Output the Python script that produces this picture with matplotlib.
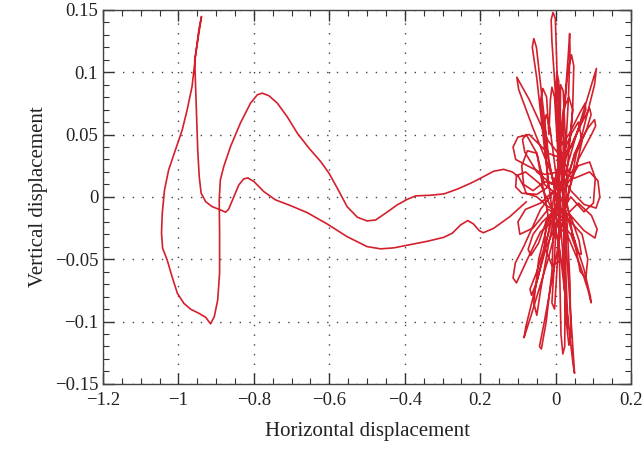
import matplotlib
matplotlib.use("Agg")
import matplotlib.pyplot as plt
from matplotlib.ticker import MultipleLocator, FixedLocator

# Strand from the top spike down the left side, around the bottom cusp, over the hump and into the cluster
strand_a_x = [-0.939, -0.946, -0.955, -0.964, -0.977, -0.990, -1.008, -1.026, -1.037, -1.043, -1.045, -1.042,
              -1.030, -1.017, -1.003, -0.986, -0.968, -0.946, -0.928, -0.915, -0.905, -0.896, -0.891, -0.891,
              -0.892, -0.889, -0.880, -0.862, -0.836, -0.809, -0.791, -0.778, -0.760, -0.738, -0.712, -0.685,
              -0.654, -0.623, -0.601, -0.579, -0.553, -0.526, -0.500, -0.477, -0.451, -0.420, -0.393, -0.371,
              -0.332, -0.296, -0.261, -0.225, -0.199, -0.165, -0.138, -0.115, -0.098, -0.084, -0.078]
strand_a_y = [0.1447, 0.134, 0.1126, 0.0885, 0.0698, 0.0538, 0.0377, 0.0217, 0.0056, -0.0131, -0.0291, -0.0412,
              -0.0506, -0.064, -0.0773, -0.0853, -0.0901, -0.0934, -0.0966, -0.1019, -0.0960, -0.0827, -0.0612,
              -0.0291, -0.0024, 0.0136, 0.0243, 0.0404, 0.0591, 0.0752, 0.0819, 0.0832, 0.0811, 0.0752, 0.0644,
              0.0511, 0.0391, 0.0283, 0.019, 0.007, -0.0078, -0.0163, -0.0193, -0.0185, -0.0131, -0.0064, -0.0019,
              0.0008, 0.0013, 0.0024, 0.0062, 0.011, 0.015, 0.0205, 0.0221, 0.020, 0.0160, 0.008, 0.0027]

# Strand from the top spike straight down, over the small bump, along the lower path into the cluster
strand_b_x = [-0.939, -0.943, -0.950, -0.957, -0.955, -0.952, -0.949, -0.945, -0.940, -0.928, -0.911, -0.889,
              -0.875, -0.867, -0.853, -0.840, -0.827, -0.816, -0.800, -0.774, -0.743, -0.703, -0.659, -0.606,
              -0.553, -0.500, -0.464, -0.429, -0.385, -0.340, -0.296, -0.274, -0.252, -0.233, -0.218, -0.203,
              -0.192, -0.165, -0.122, -0.078]
strand_b_y = [0.1447, 0.1367, 0.1233, 0.110, 0.0912, 0.0645, 0.0377, 0.0163, 0.003, -0.0038, -0.0078, -0.0104,
              -0.0123, -0.0099, 0.0003, 0.0096, 0.0144, 0.0152, 0.0123, 0.0043, -0.0024, -0.007, -0.0126, -0.0217,
              -0.0319, -0.0399, -0.0417, -0.0409, -0.0383, -0.0356, -0.0324, -0.0291, -0.0225, -0.019, -0.0217,
              -0.027, -0.0288, -0.0253, -0.016, -0.004]

# Tangle of loops around the origin (x, y) read point by point
cluster_points = [
    (-0.05, 0.0), (-0.02, -0.008), (0.012, -0.012),
    (0.008, 0.03), (0.0, 0.08), (-0.01, 0.125), (-0.012, 0.142), (-0.007, 0.148), (-0.001, 0.143), (0.001, 0.125), (0.006, 0.075), (0.015, 0.02),
    (0.028, -0.04), (0.042, -0.105), (0.048, -0.133), (0.050, -0.1415), (0.046, -0.134), (0.033, -0.10), (0.012, -0.045), (-0.01, -0.01),
    (-0.03, 0.04), (-0.05, 0.095), (-0.062, 0.12), (-0.058, 0.127), (-0.051, 0.12), (-0.04, 0.09), (-0.018, 0.03), (0.01, -0.015),
    (-0.02, -0.05), (-0.065, -0.095), (-0.084, -0.113), (-0.079, -0.104), (-0.045, -0.062), (-0.02, -0.03), (0.012, 0.005),
    (0.05, 0.045), (0.09, 0.085), (0.108, 0.103), (0.103, 0.09), (0.07, 0.05), (0.035, 0.02), (0.02, 0.03),
    (-0.02, 0.045), (-0.07, 0.078), (-0.103, 0.096), (-0.098, 0.086), (-0.06, 0.055), (-0.02, 0.025), (0.025, -0.01),
    (0.0, -0.05), (-0.03, -0.10), (-0.043, -0.12), (-0.038, -0.122), (-0.025, -0.10), (-0.01, -0.06), (-0.005, -0.02), (0.0, 0.01),
    (0.02, 0.06), (0.033, 0.112), (0.037, 0.131), (0.038, 0.118), (0.034, 0.08), (0.025, 0.03),
    (-0.02, 0.035), (-0.07, 0.05), (-0.10, 0.048), (-0.113, 0.04), (-0.106, 0.03), (-0.075, 0.025), (-0.03, 0.018), (0.01, 0.02),
    (0.05, 0.015), (0.09, 0.02), (0.112, 0.013), (0.117, 0.0), (0.107, -0.009), (0.075, -0.006), (0.04, 0.005), (0.02, 0.015),
    (0.02, 0.06), (0.032, 0.10), (0.042, 0.114), (0.048, 0.105), (0.045, 0.07), (0.03, 0.02),
    (0.02, -0.05), (0.028, -0.10), (0.035, -0.119), (0.04, -0.112), (0.038, -0.07), (0.03, -0.02), (0.015, 0.012),
    (-0.04, -0.01), (-0.085, -0.04), (-0.107, -0.053), (-0.113, -0.065), (-0.104, -0.069), (-0.075, -0.05), (-0.04, -0.028), (-0.01, -0.02),
    (0.03, -0.03), (0.065, -0.055), (0.086, -0.075), (0.094, -0.085), (0.092, -0.08), (0.075, -0.058), (0.045, -0.03), (0.03, -0.005),
    (0.055, 0.035), (0.083, 0.055), (0.094, 0.066), (0.09, 0.071), (0.07, 0.06), (0.04, 0.04), (0.01, 0.03),
    (-0.02, -0.03), (-0.05, -0.06), (-0.068, -0.074), (-0.064, -0.079), (-0.05, -0.068), (-0.025, -0.04), (0.005, -0.02),
    (-0.04, 0.01), (-0.08, 0.02), (-0.104, 0.017), (-0.106, 0.008), (-0.09, 0.003), (-0.05, 0.002), (-0.02, 0.008),
    (-0.03, 0.05), (-0.04, 0.078), (-0.034, 0.087), (-0.024, 0.08), (-0.018, 0.05), (-0.014, 0.078), (-0.01, 0.088), (-0.003, 0.08), (0.005, 0.04),
    (0.01, -0.05), (0.014, -0.11), (0.019, -0.126), (0.024, -0.12), (0.025, -0.07), (0.02, -0.01),
    (0.06, 0.03), (0.095, 0.05), (0.106, 0.057), (0.103, 0.062), (0.085, 0.055), (0.05, 0.035), (0.02, 0.0),
    (0.045, -0.02), (0.062, -0.035), (0.068, -0.046), (0.058, -0.045), (0.04, -0.03), (0.01, -0.02),
    (0.06, -0.005), (0.095, -0.015), (0.11, -0.026), (0.104, -0.033), (0.075, -0.027), (0.04, -0.015), (0.0, -0.01),
    (-0.035, -0.02), (-0.06, -0.03), (-0.073, -0.042), (-0.066, -0.047), (-0.045, -0.037), (-0.02, -0.015),
    (-0.05, 0.035), (-0.078, 0.05), (-0.088, 0.046), (-0.082, 0.036), (-0.05, 0.02), (-0.01, 0.01),
    (0.04, 0.04), (0.068, 0.06), (0.08, 0.07), (0.078, 0.075), (0.065, 0.068), (0.035, 0.05), (0.01, 0.04),
    (0.0, 0.08), (0.003, 0.10), (0.008, 0.093), (0.012, 0.05), (0.02, 0.0), (0.028, -0.07), (0.033, -0.105), (0.028, -0.10), (0.02, -0.05), (0.01, -0.01),
    (-0.02, 0.03), (-0.03, 0.06), (-0.025, 0.066), (-0.015, 0.055), (0.0, 0.02), (0.02, -0.02),
    (0.025, 0.05), (0.02, 0.085), (0.013, 0.09), (0.012, 0.06), (0.005, 0.0), (-0.005, -0.06), (-0.01, -0.085), (-0.003, -0.09), (0.005, -0.05), (0.012, 0.0),
    (-0.03, 0.01), (-0.05, 0.035), (-0.075, 0.037), (-0.09, 0.025), (-0.085, 0.01), (-0.06, 0.005), (-0.03, 0.012),
    (0.03, 0.01), (0.06, 0.025), (0.09, 0.028), (0.105, 0.015), (0.10, -0.005), (0.075, -0.012), (0.04, 0.0),
    (0.02, -0.01), (0.03, -0.03), (0.02, -0.05), (-0.01, -0.055), (-0.03, -0.04), (-0.025, -0.02), (0.0, -0.01),
    (-0.02, -0.02), (-0.045, -0.05), (-0.058, -0.085), (-0.05, -0.095), (-0.04, -0.075), (-0.02, -0.04),
    (0.02, 0.02), (0.04, 0.05), (0.06, 0.06), (0.07, 0.045), (0.055, 0.025), (0.03, 0.015),
    (-0.04, -0.005), (-0.08, -0.01), (-0.10, -0.02), (-0.095, -0.03), (-0.06, -0.025), (-0.02, -0.01),
    (0.04, -0.02), (0.07, -0.03), (0.085, -0.05), (0.08, -0.065), (0.065, -0.06), (0.05, -0.035), (0.02, -0.005),
    (0.01, 0.04), (0.02, 0.07), (0.035, 0.08), (0.045, 0.07), (0.04, 0.05), (0.02, 0.035),
]

x_ticks = [-1.2, -1.0, -0.8, -0.6, -0.4, -0.2, 0.0, 0.2]
x_tick_labels = ["\u22121.2", "\u22121", "\u22120.8", "\u22120.6", "\u22120.4", "0.2", "0", "0.2"]
y_ticks = [-0.15, -0.1, -0.05, 0.0, 0.05, 0.1, 0.15]
y_tick_labels = ["\u22120.15", "\u22120.1", "\u22120.05", "0", "0.05", "0.1", "0.15"]

plt.rcParams['font.family'] = ['Liberation Serif', 'DejaVu Serif']

fig = plt.figure(figsize=(6.44, 4.5), dpi=100)
ax = fig.add_axes([0.160, 0.147, 0.820, 0.831])

cluster_x = [p[0] for p in cluster_points]
cluster_y = [p[1] for p in cluster_points]
path_x = strand_b_x[::-1] + strand_a_x + cluster_x
path_y = strand_b_y[::-1] + strand_a_y + cluster_y
ax.plot(path_x, path_y, color='#d4202c', lw=1.2, solid_joinstyle='round')

ax.set_xlim(-1.2, 0.2)
ax.set_ylim(-0.15, 0.15)
ax.xaxis.set_major_locator(FixedLocator(x_ticks))
ax.set_xticklabels(x_tick_labels)
ax.yaxis.set_major_locator(FixedLocator(y_ticks))
ax.set_yticklabels(y_tick_labels)
ax.xaxis.set_minor_locator(MultipleLocator(0.05))
ax.yaxis.set_minor_locator(MultipleLocator(0.01))

ax.tick_params(which='both', direction='in', top=True, right=True, colors='#333333',
               labelcolor='#222222', labelsize=13.5)
ax.tick_params(which='major', length=8, width=1.0)
ax.tick_params(which='minor', length=4, width=0.8)
ax.tick_params(axis='x', pad=6)
for s in ax.spines.values():
    s.set_color('#444444')
    s.set_linewidth(1.0)

ax.grid(True, which='major', linestyle=(0, (1, 6)), color='#444444', linewidth=1.0)

ax.set_xlabel('Horizontal displacement', fontsize=15, color='#222222', labelpad=9)
ax.set_ylabel('Vertical displacement', fontsize=15, color='#222222', labelpad=5)

fig.savefig('out.png', dpi=100)
